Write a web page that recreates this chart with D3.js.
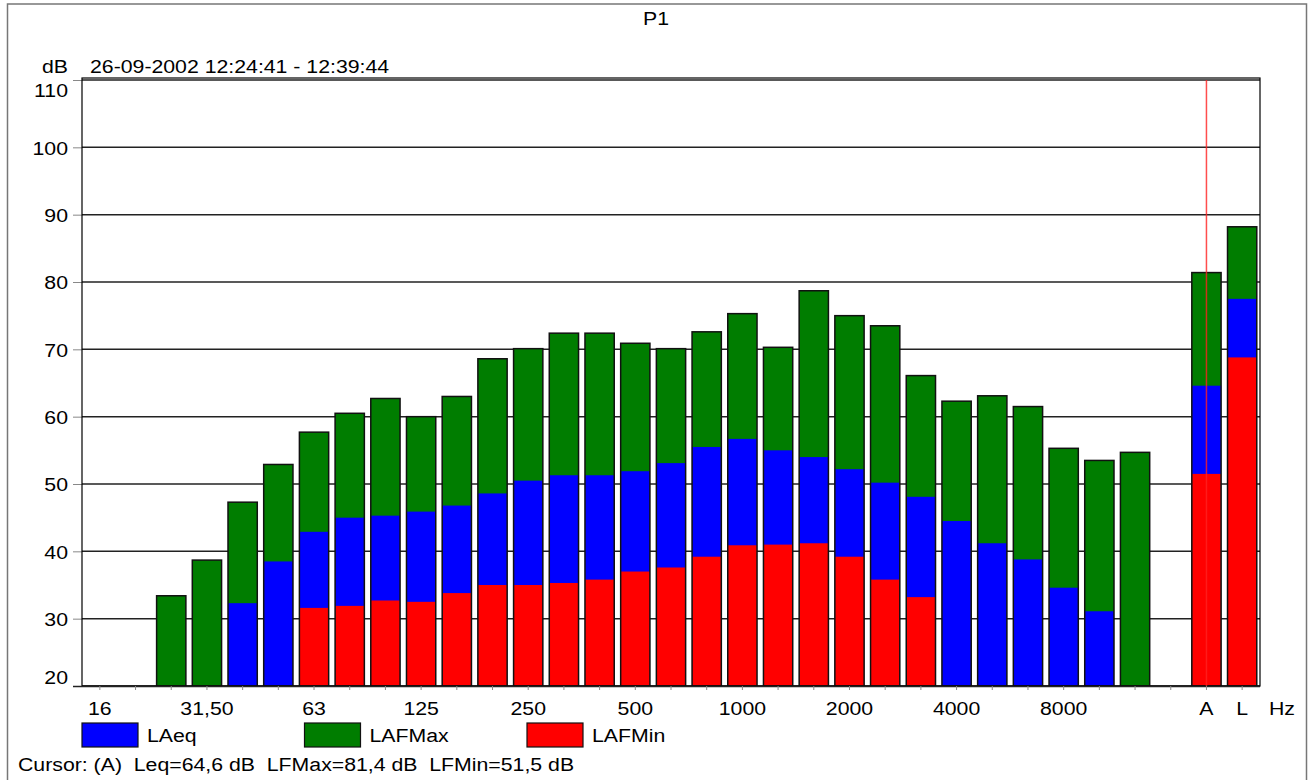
<!DOCTYPE html>
<html>
<head>
<meta charset="utf-8">
<script src="https://cdn.jsdelivr.net/npm/d3@7/dist/d3.min.js"></script>
<style>
  body { margin: 0; background: #fff; }
  text { font-family: "Liberation Sans", Arial, sans-serif; font-size: 19px; fill: #000; }
</style>
</head>
<body>
<div id="chart"></div>
<script>
var width = 1311;
var height = 780;
var SX = 1.12; // the original report text is stretched horizontally

// third-octave bands, then the A and L broadband totals
var bands = ["16", "20", "25", "31.5", "40", "50", "63", "80", "100", "125", "160", "200",
  "250", "315", "400", "500", "630", "800", "1000", "1250", "1600", "2000", "2500", "3150",
  "4000", "5000", "6300", "8000", "10000", "12500", "16000", "A", "L"];
var bandLabels = ["16", "", "", "31,50", "", "", "63", "", "", "125", "", "",
  "250", "", "", "500", "", "", "1000", "", "", "2000", "", "",
  "4000", "", "", "8000", "", "", "", "A", "L"];

var lafMax = [null, null, 33.4, 38.7, 47.3, 52.9, 57.7, 60.5, 62.7, 60.0, 63.0, 68.6,
  70.1, 72.4, 72.4, 70.9, 70.1, 72.6, 75.3, 70.3, 78.7, 75.0, 73.5, 66.1,
  62.3, 63.1, 61.5, 55.3, 53.5, 54.7, null, 81.4, 88.2];
var laeq = [null, null, null, null, 32.3, 38.5, 42.9, 45.0, 45.3, 45.9, 46.8, 48.6,
  50.5, 51.3, 51.3, 51.9, 53.1, 55.5, 56.7, 55.0, 54.0, 52.2, 50.2, 48.1,
  44.5, 41.2, 38.8, 34.6, 31.1, null, null, 64.6, 77.5];
var lafMin = [null, null, null, null, null, null, 31.6, 31.9, 32.7, 32.5, 33.8, 35.0,
  35.0, 35.3, 35.8, 37.0, 37.6, 39.2, 40.9, 41.0, 41.2, 39.2, 35.8, 33.2,
  null, null, null, null, null, null, null, 51.5, 68.8];

var yTicks = [20, 30, 40, 50, 60, 70, 80, 90, 100, 110];
var seriesNames = ["LAeq", "LAFMax", "LAFMin"];
var seriesColors = ["#0000ff", "#007d00", "#ff0000"];

var plot = { left: 82, right: 1260, top: 80, bottom: 686 };

var svg = d3.select("#chart")
  .append("svg")
  .attr("width", width)
  .attr("height", height);

function addText(x, y, str, anchor) {
  return svg.append("text")
    .attr("transform", "translate(" + x + "," + y + ") scale(" + SX + ",1)")
    .attr("text-anchor", anchor || "start")
    .style("white-space", "pre")
    .text(str);
}

// outer frame
svg.append("rect")
  .attr("x", 7.5).attr("y", 4)
  .attr("width", 1299).attr("height", 800)
  .attr("fill", "none").attr("stroke", "#777").attr("stroke-width", 1.5);

var x = d3.scaleBand()
  .domain(bands)
  .range([plot.left, plot.right])
  .paddingInner(0.18)
  .paddingOuter(0.09);

var y = d3.scaleLinear()
  .domain([20, 110])
  .range([plot.bottom, plot.top]);

// gridlines
svg.append("g")
  .selectAll("line")
  .data(yTicks)
  .join("line")
  .attr("x1", plot.left).attr("x2", plot.right)
  .attr("y1", d => y(d)).attr("y2", d => y(d))
  .attr("stroke", "#222").attr("stroke-width", 1.5);

// y axis
var yAxis = svg.append("g")
  .attr("transform", "translate(" + plot.left + ",0)")
  .call(d3.axisLeft(y).tickValues(yTicks).tickSize(9).tickPadding(5).tickSizeOuter(0));
yAxis.select(".domain").remove();
yAxis.selectAll(".tick line").attr("stroke", "#888");
yAxis.selectAll(".tick text")
  .attr("font-size", null).attr("font-family", null)
  .attr("dy", null)
  .attr("y", function (d) {
    var p = y(d);
    var b = Math.max(plot.top + 17, Math.min(plot.bottom - 3, p + 6.8));
    return b - p;
  })
  .attr("transform", "scale(" + SX + ",1)")
  .attr("x", -14 / SX);

// bars: max full height, then Leq, then Min on top
var barG = svg.append("g");
bands.forEach(function (b, i) {
  var vals = [lafMax[i], laeq[i], lafMin[i]];
  var cols = [seriesColors[1], seriesColors[0], seriesColors[2]];
  var top = null;
  vals.forEach(function (v, k) {
    if (v == null) return;
    if (top == null || v > top) top = v;
    barG.append("rect")
      .attr("x", x(b))
      .attr("y", y(v))
      .attr("width", x.bandwidth())
      .attr("height", y(20) - y(v))
      .attr("fill", cols[k]);
  });
  if (top != null) {
    barG.append("rect")
      .attr("x", x(b))
      .attr("y", y(top))
      .attr("width", x.bandwidth())
      .attr("height", y(20) - y(top))
      .attr("fill", "none")
      .attr("stroke", "#111")
      .attr("stroke-width", 1.5);
  }
});

// plot frame
svg.append("rect")
  .attr("x", plot.left).attr("y", plot.top - 2)
  .attr("width", plot.right - plot.left)
  .attr("height", plot.bottom - plot.top + 2)
  .attr("fill", "none").attr("stroke", "#000").attr("stroke-width", 1.2);

// x axis
var xAxis = svg.append("g")
  .attr("transform", "translate(0," + plot.bottom + ")")
  .call(d3.axisBottom(x).tickSize(4).tickPadding(12).tickSizeOuter(0)
    .tickFormat(function (d, i) { return bandLabels[i]; }));
xAxis.select(".domain")
  .attr("d", "M" + (plot.left - 9) + ",0.5H" + plot.right)
  .attr("stroke", "#222").attr("stroke-width", 1.5);
xAxis.selectAll(".tick line").attr("stroke", "#888");
xAxis.selectAll(".tick text")
  .attr("font-size", null).attr("font-family", null)
  .attr("dy", null)
  .attr("y", 29)
  .attr("transform", "scale(" + SX + ",1)");

// cursor line on A
svg.append("line")
  .attr("x1", x("A") + x.bandwidth() / 2).attr("x2", x("A") + x.bandwidth() / 2)
  .attr("y1", plot.top).attr("y2", plot.bottom)
  .attr("stroke", "#ff2020").attr("stroke-opacity", 0.8).attr("stroke-width", 1.5);

// texts
addText(656, 25, "P1", "middle");
addText(68, 73, "dB", "end");
addText(90, 73, "26-09-2002 12:24:41 - 12:39:44");
addText(1282, 715, "Hz", "middle");

// legend
seriesNames.forEach(function (name, i) {
  var lx = 82 + i * 222.5;
  svg.append("rect")
    .attr("x", lx).attr("y", 723)
    .attr("width", 56).attr("height", 24)
    .attr("fill", seriesColors[i])
    .attr("stroke", "#111").attr("stroke-width", 1.2);
  addText(lx + 65, 742, name);
});

addText(18, 771, "Cursor: (A)  Leq=64,6 dB  LFMax=81,4 dB  LFMin=51,5 dB");
</script>
</body>
</html>
